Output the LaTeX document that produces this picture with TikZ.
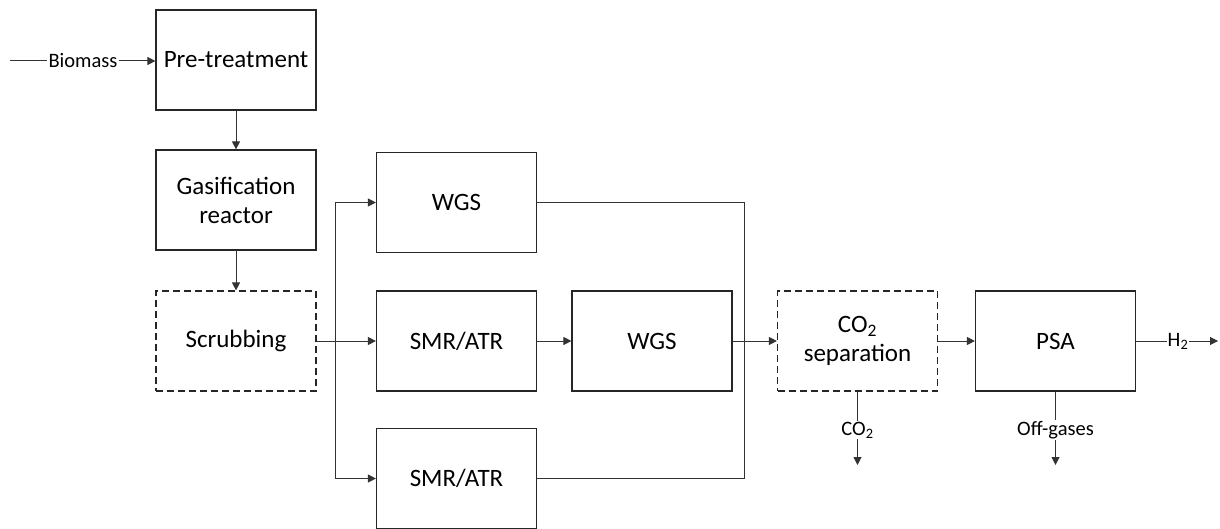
\documentclass[tikz,border=0pt]{standalone}
\usepackage{fontspec}
\setmainfont{Carlito}
\usetikzlibrary{arrows.meta}
\begin{document}
\begin{tikzpicture}[x=1pt,y=-1pt,
  box/.style={draw=black!85,line width=1.2pt,minimum width=160pt,minimum height=100pt,
    inner sep=0pt,align=center,font=\fontsize{25}{29}\selectfont},
  dbox/.style={box,dash pattern=on 7pt off 4pt},
  lbl/.style={inner sep=1pt,font=\fontsize{20.5}{24}\selectfont},
  conn/.style={draw=black!80,line width=1pt},
  arr/.style={conn,-{Triangle[length=8pt,width=8pt]}}]
\useasboundingbox (0,0) rectangle (1220,529);
\node[box] (pre) at (236,60) {Pre-treatment};
\node[box] (gas) at (236,200) {Gasification\\reactor};
\node[dbox] (scr) at (236,341) {Scrubbing};
\node[box] (wgs1) at (456.5,202.5) {WGS};
\node[box] (smr1) at (456.5,341) {SMR/ATR};
\node[box] (wgs2) at (652,341) {WGS};
\node[box] (smr2) at (456.5,478.5) {SMR/ATR};
\node[dbox] (co2) at (857.5,341) {CO\textsubscript{2}\\separation};
\node[box] (psa) at (1055.5,341) {PSA};
% labels
\coordinate (bstart) at (10,61);
\node[lbl] (bio) at (83,61) {Biomass};
\node[lbl] (h2) at (1178,341) {H\textsubscript{2}};
\coordinate (h2end) at (1218,341);
\node[lbl] (co2l) at (857.5,430) {CO\textsubscript{2}};
\coordinate (co2end) at (857.5,465);
\node[lbl] (off) at (1055.5,430) {Off-gases};
\coordinate (offend) at (1055.5,465);
\coordinate (split) at (335,341);
\coordinate (merge) at (744,341);
% connectors
\draw[conn] (bstart) -- (bio.west);
\draw[arr] (bio.east) -- (pre.west|-bio.east);
\draw[arr] (pre.south) -- (gas.north);
\draw[arr] (gas.south) -- (scr.north);
\draw[arr] (scr.east) -- (smr1.west);
\draw[arr] (split) |- (wgs1.west);
\draw[arr] (split) |- (smr2.west);
\draw[arr] (smr1.east) -- (wgs2.west);
\draw[conn] (wgs1.east) -| (merge);
\draw[conn] (smr2.east) -| (merge);
\draw[arr] (wgs2.east) -- (co2.west);
\draw[arr] (co2.east) -- (psa.west);
\draw[conn] (psa.east) -- (h2.west);
\draw[arr] (h2.east) -- (h2end);
\draw[conn] (co2.south) -- (co2l.north);
\draw[arr] (co2l.south) -- (co2end);
\draw[conn] (psa.south) -- (off.north);
\draw[arr] (off.south) -- (offend);
\end{tikzpicture}
\end{document}
